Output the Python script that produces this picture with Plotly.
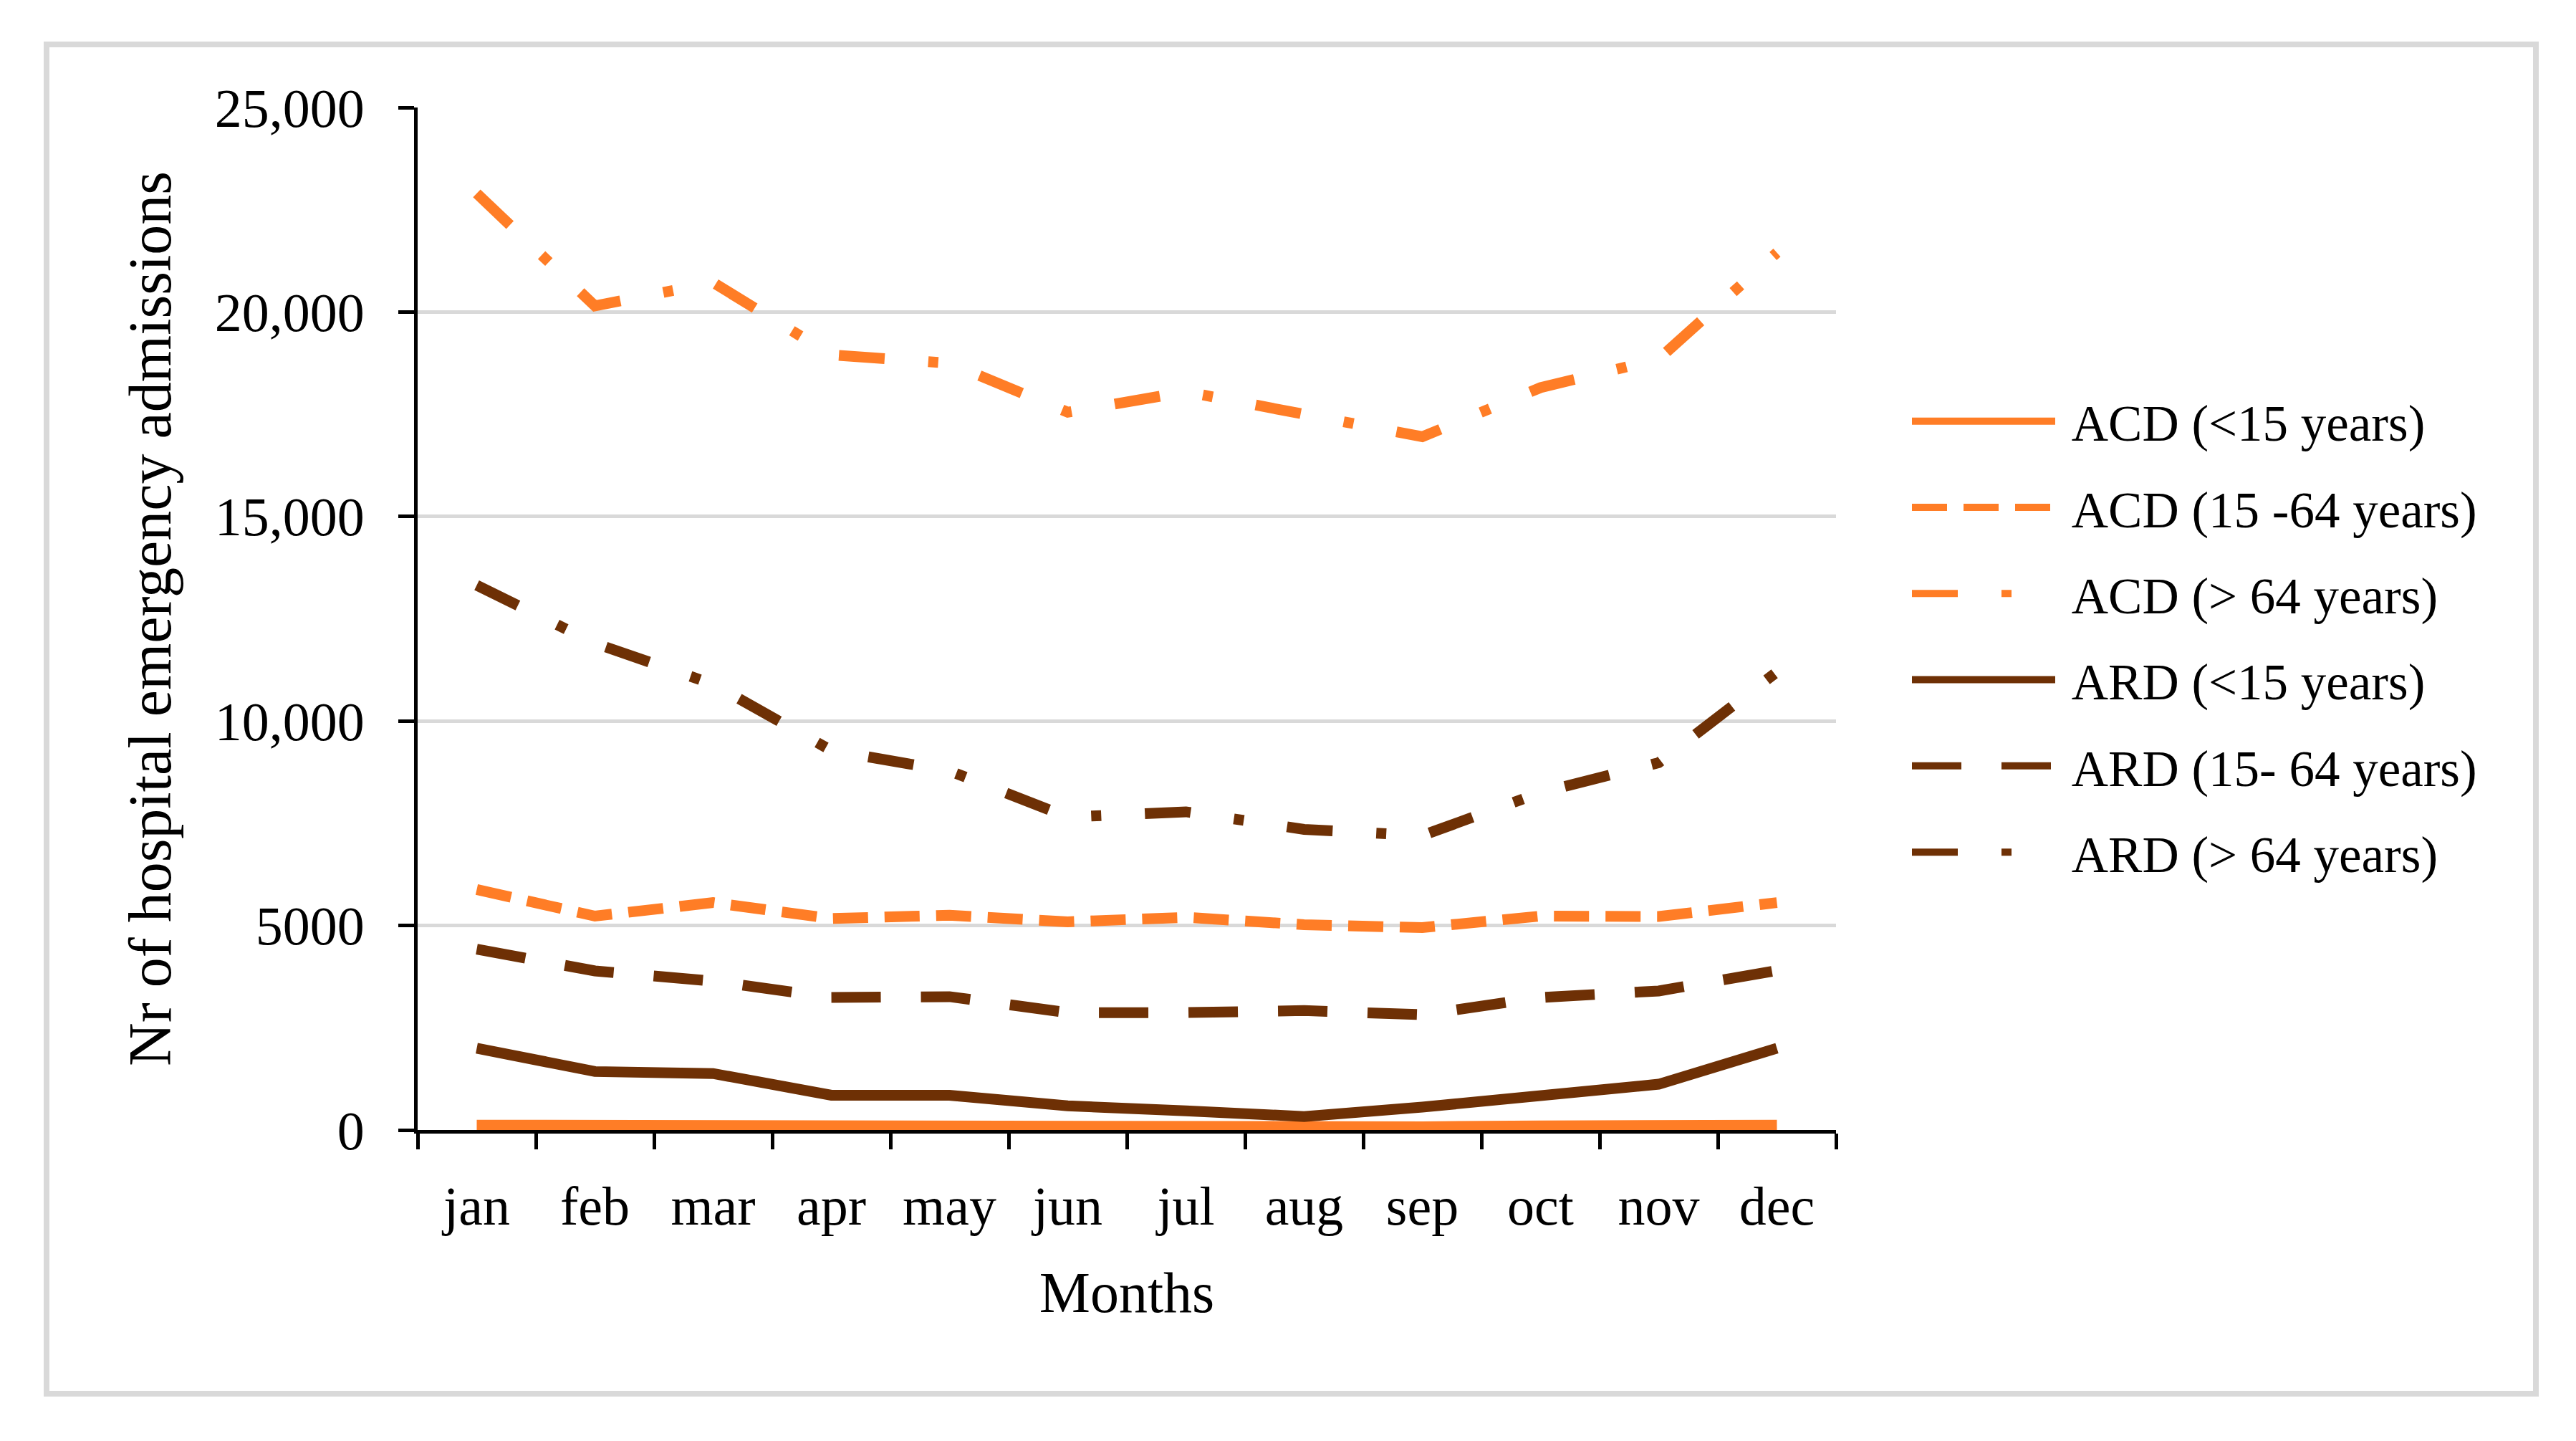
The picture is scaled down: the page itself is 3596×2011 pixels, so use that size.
import plotly.graph_objects as go

months = ["jan", "feb", "mar", "apr", "may", "jun", "jul", "aug", "sep", "oct", "nov", "dec"]

acd_u15 = [120, 110, 110, 100, 100, 90, 90, 80, 80, 100, 110, 120]
acd_15_64 = [5880, 5230, 5560, 5170, 5250, 5090, 5200, 5020, 4950, 5230, 5220, 5560]
acd_o64 = [22900, 20150, 20720, 18950, 18750, 17550, 18050, 17500, 16950, 18150, 18850, 21450]
ard_u15 = [2000, 1430, 1380, 850, 850, 590, 470, 330, 560, 830, 1120, 2000]
ard_15_64 = [4420, 3890, 3640, 3240, 3260, 2870, 2870, 2920, 2820, 3240, 3400, 3900]
ard_o64 = [13320, 11900, 10900, 9280, 8780, 7650, 7780, 7350, 7200, 8250, 8980, 11200]

series_names = ["ACD (&lt;15 years)", "ACD (15 -64 years)", "ACD (> 64 years)",
                "ARD (&lt;15 years)", "ARD (15- 64 years)", "ARD (> 64 years)"]

y_tickvals = [0, 5000, 10000, 15000, 20000, 25000]
y_ticktext = ["0", "5000", "10,000", "15,000", "20,000", "25,000"]

ORANGE = "#FF7D26"
BROWN = "#6E3005"
FONT = "Liberation Serif"
LW = 15
DASHDOT = "64px,61px,14px,61px"

styles = [
    (acd_u15, ORANGE, "solid"),
    (acd_15_64, ORANGE, "49px,23px"),
    (acd_o64, ORANGE, DASHDOT),
    (ard_u15, BROWN, "solid"),
    (ard_15_64, BROWN, "69px,56px"),
    (ard_o64, BROWN, DASHDOT),
]

fig = go.Figure()
for i, ((vals, color, dash), name) in enumerate(zip(styles, series_names)):
    fig.add_trace(go.Scatter(
        x=months, y=vals, name="\u00a0" + name, mode="lines",
        line=dict(color=color, width=LW, dash=dash),
        legendgroup=f"g{i}",
    ))

# page body adds an 8px offset; compensate so the plot lands where the reference has it
OFF = 8
W, H = 3596, 2011
L, R, T, B = 583 - OFF, 1033 + OFF, 150 - OFF, 434 + OFF
pw, ph = W - L - R, H - T - B

def px_to_paper_x(px):
    return (px - OFF - L) / pw

def px_to_paper_y(py):
    return (H - B - (py - OFF)) / ph

fig.update_layout(
    width=W, height=H,
    margin=dict(l=L, r=R, t=T, b=B, pad=0),
    paper_bgcolor="white", plot_bgcolor="white",
    font=dict(family=FONT, size=76, color="black"),
    showlegend=True,
    legend=dict(
        x=px_to_paper_x(2664), y=px_to_paper_y(535),
        xanchor="left", yanchor="top",
        font=dict(family=FONT, size=71, color="black"),
        itemwidth=200, tracegroupgap=25,
        bgcolor="rgba(0,0,0,0)",
    ),
    xaxis=dict(
        type="category", categoryorder="array", categoryarray=months,
        range=[-0.5, 11.5],
        showline=True, linecolor="black", linewidth=5,
        ticks="outside", tickson="boundaries", ticklen=22, tickwidth=5, tickcolor="black",
        showgrid=False, zeroline=False,
        tickfont=dict(family=FONT, size=76, color="black"),
        ticklabelstandoff=36,
        title=dict(text="Months", font=dict(family=FONT, size=80, color="black"), standoff=52),
    ),
    yaxis=dict(
        range=[0, 25000],
        tickvals=y_tickvals, ticktext=y_ticktext,
        showline=True, linecolor="black", linewidth=5,
        ticks="outside", ticklen=22, tickwidth=5, tickcolor="black",
        showgrid=True, gridcolor="#D9D9D9", gridwidth=5, zeroline=False,
        tickfont=dict(family=FONT, size=76, color="black"),
        ticklabelstandoff=32,
        title=dict(text="Nr of hospital emergency admissions",
                   font=dict(family=FONT, size=84, color="black"), standoff=35),
    ),
    shapes=[dict(
        type="rect", xref="paper", yref="paper", layer="below",
        x0=px_to_paper_x(65), x1=px_to_paper_x(3540),
        y0=px_to_paper_y(1945), y1=px_to_paper_y(62),
        line=dict(color="#D9D9D9", width=8), fillcolor="rgba(0,0,0,0)",
    )],
)

fig.write_html("out.html")
